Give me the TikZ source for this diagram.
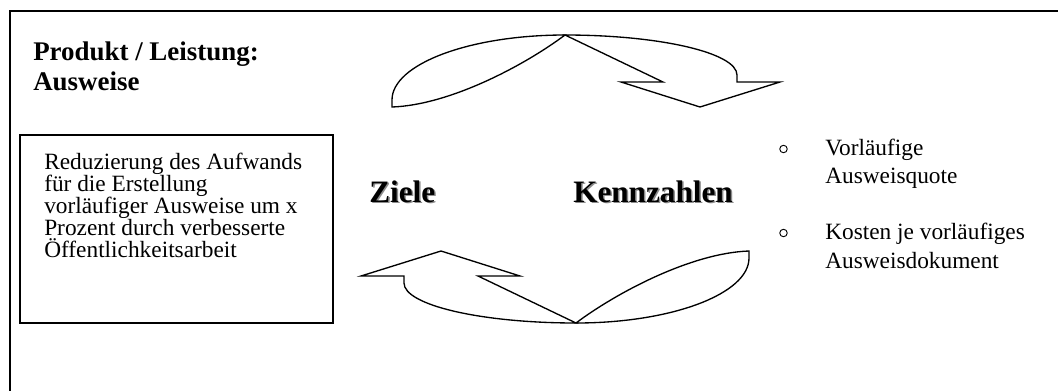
\documentclass[tikz,border=0pt]{standalone}
\usepackage{fontspec}
\setmainfont{Liberation Serif}
\begin{document}
\begin{tikzpicture}[x=0.75pt,y=-0.75pt,
  txt/.style={anchor=base west,inner sep=0pt,font=\fontsize{17.5pt}{21pt}\selectfont},
  ttl/.style={anchor=base west,inner sep=0pt,font=\fontsize{20.2pt}{24pt}\selectfont\bfseries},
  big/.style={anchor=base west,inner sep=0pt,font=\fontsize{23.4pt}{28pt}\selectfont\bfseries},
  shadowtxt/.style={big,text=black!45},
  arrowline/.style={draw=black,line width=1pt,fill=white,line join=miter},
  bulletring/.style={circle,draw=black,line width=0.7pt,minimum size=5.6pt,inner sep=0pt}]
\useasboundingbox (0,0) rectangle (1058,390);
% outer frame (cropped at right and bottom)
\draw[line width=1.3pt] (1060,11) -- (10,11) -- (10,392);
% title
\node[ttl] (t1) at (33,60) {Produkt / Leistung:};
\node[ttl] (t2) at (33,90) {Ausweise};
% goal box
\draw[line width=1.5pt] (20,135) rectangle (333,323);
\node[txt] (b1) at (44,169) {Reduzierung des Aufwands};
\node[txt] (b2) at (44,191) {für die Erstellung};
\node[txt] (b3) at (44,213) {vorläufiger Ausweise um x};
\node[txt] (b4) at (44,235) {Prozent durch verbesserte};
\node[txt] (b5) at (44,257) {Öffentlichkeitsarbeit};
% curved arrows
\begin{scope}
  \path[arrowline] (565,35) .. controls (469.5,35) and (392,64.1) .. (392,100) -- (392,107)
     .. controls (450,105) and (525,65) .. (565,35) -- cycle;
  \path[arrowline] (565,35) .. controls (660,35) and (737,52.9) .. (737,75) -- (737,82)
     -- (780,82) -- (700,107) -- (621,82) -- (663,82) -- cycle;
\end{scope}
\begin{scope}[rotate around={180:(570.5,179)}]
  \path[arrowline] (565,35) .. controls (469.5,35) and (392,64.1) .. (392,100) -- (392,107)
     .. controls (450,105) and (525,65) .. (565,35) -- cycle;
  \path[arrowline] (565,35) .. controls (660,35) and (737,52.9) .. (737,75) -- (737,82)
     -- (780,82) -- (700,107) -- (621,82) -- (663,82) -- cycle;
\end{scope}
% Ziele / Kennzahlen with shadow
\node[shadowtxt] (zs) at (370.5,203.5) {Ziele};
\node[big] (z) at (369,202) {Ziele};
\node[shadowtxt] (ks) at (574.5,203.5) {Kennzahlen};
\node[big] (k) at (573,202) {Kennzahlen};
% indicators
\node[bulletring] (o1) at (783.5,149) {};
\node[txt] (i1) at (825,155) {Vorläufige};
\node[txt] (i2) at (825,183.5) {Ausweisquote};
\node[bulletring] (o2) at (783.5,233) {};
\node[txt] (i3) at (825,239) {Kosten je vorläufiges};
\node[txt] (i4) at (825,268) {Ausweisdokument};
\end{tikzpicture}
\end{document}
